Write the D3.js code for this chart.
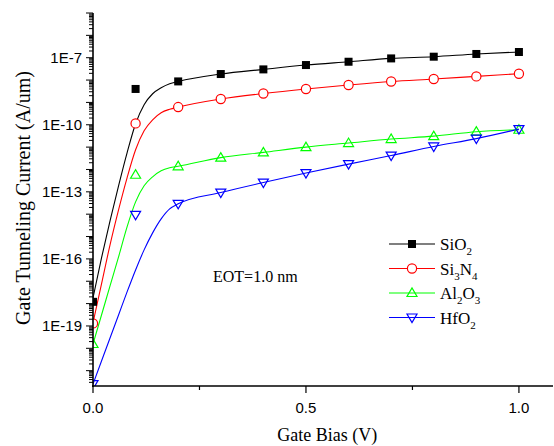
<!DOCTYPE html>
<html><head><meta charset="utf-8">
<script src="https://cdn.jsdelivr.net/npm/d3@7"></script>
<style>body{margin:0;background:#fff}svg{display:block}</style>
</head><body>
<script>
// ---- data ----
const biasV = [0, 0.1, 0.2, 0.3, 0.4, 0.5, 0.6, 0.7, 0.8, 0.9, 1.0];
const seriesNames = ["SiO2", "Si3N4", "Al2O3", "HfO2"];
const seriesColors = ["#000000", "#ff0000", "#00ff00", "#0000ff"];
const sio2  = [1.2e-18, 4.0e-9, 8.7e-9, 1.86e-8, 3.0e-8, 4.7e-8, 6.6e-8, 9.3e-8, 1.11e-7, 1.47e-7, 1.8e-7];
const si3n4 = [1.3e-19, 1.15e-10, 6.2e-10, 1.42e-9, 2.5e-9, 4.0e-9, 6.0e-9, 8.6e-9, 1.11e-8, 1.46e-8, 1.92e-8];
const al2o3 = [1.56e-20, 5.8e-13, 1.39e-12, 3.4e-12, 5.8e-12, 1.0e-11, 1.52e-11, 2.3e-11, 3.1e-11, 4.9e-11, 6.0e-11];
const hfo2  = [2.5e-22, 9.3e-15, 2.9e-14, 9.3e-14, 2.6e-13, 6.9e-13, 1.74e-12, 4.2e-12, 1.07e-11, 2.4e-11, 6.4e-11];
// fitted curves (low-bias part); above 0.2 V the curve runs through the symbols
const fitBias  = [0, 0.02, 0.04, 0.06, 0.08, 0.1, 0.12, 0.14, 0.16, 0.18];
const sio2Fit  = [1.78e-18, 1.11e-16, 5.02e-15, 1.86e-13, 5.57e-12, 1.11e-10, 7.87e-10, 2.44e-9, 4.54e-9, 6.85e-9];
const si3n4Fit = [1.36e-19, 7.6e-18, 4.24e-16, 1.56e-14, 4.24e-13, 7.6e-12, 5.38e-11, 1.67e-10, 3.44e-10, 4.94e-10];
const al2o3Fit = [1.56e-20, 3.1e-19, 6.18e-18, 1.23e-16, 2.71e-15, 3.56e-14, 1.86e-13, 4.7e-13, 8.7e-13, 1.19e-12];
const hfo2Fit  = [2.53e-22, 2.71e-21, 2.9e-20, 3.1e-19, 3.33e-18, 3.21e-17, 2.53e-16, 1.46e-15, 6.18e-15, 1.73e-14];
const xTickValues = [0, 0.5, 1.0];
const xTickLabels = ["0.0", "0.5", "1.0"];
const xMinorTicks = [0.25, 0.75];
const yTickValues = [1e-7, 1e-10, 1e-13, 1e-16, 1e-19];
const yTickLabels = ["1E-7", "1E-10", "1E-13", "1E-16", "1E-19"];
const xTitle = "Gate Bias (V)";
const yTitle = "Gate Tunneling Current (A/um)";
const noteText = "EOT=1.0 nm";

const symData = [sio2, si3n4, al2o3, hfo2];
const fitData = [sio2Fit, si3n4Fit, al2o3Fit, hfo2Fit];

// ---- layout ----
const W = 554, H = 446;
const L = 93, R = 553, T = 13, B = 386;
const svg = d3.select("body").append("svg").attr("width", W).attr("height", H);

const x = d3.scaleLinear().domain([0, 1.08]).range([L, R]);
const y = d3.scaleLog().domain([2.06e-22, 1e-5]).range([B, T]);

svg.append("defs").append("clipPath").attr("id", "clip")
  .append("rect").attr("x", L).attr("y", T).attr("width", R - L).attr("height", B - T);

const plot = svg.append("g").attr("clip-path", "url(#clip)");

const line = d3.line().x(d => x(d[0])).y(d => y(d[1])).curve(d3.curveMonotoneX);

seriesNames.forEach((name, si) => {
  const pts = fitBias.map((b, i) => [b, fitData[si][i]])
    .concat(biasV.slice(2).map((b, i) => [b, symData[si][i + 2]]));
  plot.append("path").datum(pts).attr("d", line)
    .attr("fill", "none").attr("stroke", seriesColors[si]).attr("stroke-width", 1.1);
});

function drawSymbol(g, si, cx, cy) {
  const c = seriesColors[si];
  if (si === 0) {
    g.append("rect").attr("x", cx - 4).attr("y", cy - 4).attr("width", 8).attr("height", 8).attr("fill", c);
  } else if (si === 1) {
    g.append("circle").attr("cx", cx).attr("cy", cy).attr("r", 4.6)
      .attr("fill", "#fff").attr("stroke", c).attr("stroke-width", 1.2);
  } else {
    const s = si === 2 ? 1 : -1;
    const p = [[cx - 5, cy + 3.5 * s], [cx + 5, cy + 3.5 * s], [cx, cy - 5 * s]];
    g.append("path").attr("d", "M" + p.map(q => q.join(",")).join("L") + "Z")
      .attr("fill", "none").attr("stroke", c).attr("stroke-width", 1.2);
  }
}

seriesNames.forEach((name, si) => {
  biasV.forEach((b, i) => drawSymbol(plot, si, x(b), y(symData[si][i])));
});

// ---- axes ----
const axisG = svg.append("g");
axisG.append("line").attr("x1", L).attr("x2", L).attr("y1", T).attr("y2", B + 1)
  .attr("stroke", "#000").attr("stroke-width", 1.6);
axisG.append("line").attr("x1", L - 1).attr("x2", R).attr("y1", B).attr("y2", B)
  .attr("stroke", "#000").attr("stroke-width", 1.6);

const sans = "Liberation Sans, Arial, sans-serif";
const serif = "Liberation Serif, Times New Roman, serif";

// x ticks
xTickValues.forEach((v, i) => {
  axisG.append("line").attr("x1", x(v)).attr("x2", x(v)).attr("y1", B).attr("y2", B + 7)
    .attr("stroke", "#000").attr("stroke-width", 1.2);
  axisG.append("text").attr("x", x(v)).attr("y", B + 27).attr("text-anchor", "middle")
    .attr("font-family", sans).attr("font-size", 15).text(xTickLabels[i]);
});
xMinorTicks.forEach(v => {
  axisG.append("line").attr("x1", x(v)).attr("x2", x(v)).attr("y1", B).attr("y2", B + 4)
    .attr("stroke", "#000").attr("stroke-width", 1.2);
});

// y ticks (log)
const [ylo, yhi] = y.domain();
for (let d = Math.floor(Math.log10(ylo)); d <= Math.ceil(Math.log10(yhi)); d++) {
  for (let k = 1; k <= 9; k++) {
    const v = k * Math.pow(10, d);
    if (v < ylo || v > yhi * 1.0001) continue;
    const len = k === 1 ? 7 : 4;
    axisG.append("line").attr("x1", L - len).attr("x2", L).attr("y1", y(v)).attr("y2", y(v))
      .attr("stroke", "#000").attr("stroke-width", 1);
  }
}
yTickValues.forEach((v, i) => {
  axisG.append("text").attr("x", L - 11).attr("y", y(v)).attr("dy", "0.36em").attr("text-anchor", "end")
    .attr("font-family", sans).attr("font-size", 15).text(yTickLabels[i]);
});

// titles
svg.append("text").attr("x", x(0.55)).attr("y", 441).attr("text-anchor", "middle")
  .attr("font-family", serif).attr("font-size", 18).text(xTitle);
svg.append("text").attr("transform", `translate(30,198) rotate(-90)`).attr("text-anchor", "middle")
  .attr("font-family", serif).attr("font-size", 20).text(yTitle);

// note
svg.append("text").attr("x", 213).attr("y", 282)
  .attr("font-family", serif).attr("font-size", 16).text(noteText);

// legend
const legY0 = 244, legDy = 24.5;
seriesNames.forEach((name, si) => {
  const ly = legY0 + si * legDy;
  const g = svg.append("g");
  g.append("line").attr("x1", 389).attr("x2", 435).attr("y1", ly).attr("y2", ly)
    .attr("stroke", seriesColors[si]).attr("stroke-width", 1.1);
  drawSymbol(g, si, 412, ly);
  const t = g.append("text").attr("x", 440).attr("y", ly + 6)
    .attr("font-family", serif).attr("font-size", 17);
  let shifted = false;
  name.match(/[A-Za-z]+|\d+/g).forEach(part => {
    if (/\d/.test(part)) {
      t.append("tspan").attr("font-size", 11).attr("dy", 5).text(part);
      shifted = true;
    } else {
      const ts = t.append("tspan").text(part);
      if (shifted) { ts.attr("dy", -5); shifted = false; }
    }
  });
});
</script>
</body></html>
